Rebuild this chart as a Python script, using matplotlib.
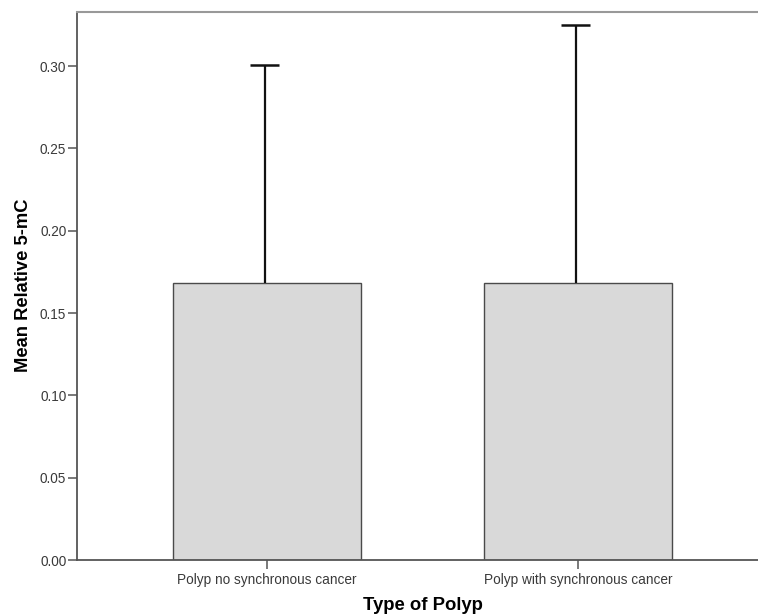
import matplotlib
matplotlib.use("Agg")
import matplotlib.pyplot as plt

categories = ["Polyp no synchronous cancer", "Polyp with synchronous cancer"]
means = [0.1680, 0.1684]
err_upper = [0.3006, 0.3250]
yticks = [0.00, 0.05, 0.10, 0.15, 0.20, 0.25, 0.30]

plt.rcParams['font.family'] = ['Liberation Sans', 'DejaVu Sans']

fig = plt.figure(figsize=(7.58, 6.16), dpi=100)
# axes extends slightly past the right edge of the figure, as in the reference
ax = fig.add_axes([77/758, 1-560/616, (768-77)/758, (560-11.5)/616])

x = list(range(len(categories)))
ax.bar(x, means, width=0.603, color='#d9d9d9', edgecolor='#4a4a4a', linewidth=1.0, zorder=2)

# upper-only error bars (stem + cap)
off = -0.008
ex = [xi + off for xi in x]
ax.vlines(ex, means, err_upper, colors='#111111', linewidth=1.6, zorder=3)
cap_half = 0.048
ax.hlines(err_upper, [e - cap_half for e in ex], [e + cap_half for e in ex],
          colors='#111111', linewidth=1.8, zorder=3)

ax.set_xlim(-0.611, 1.611)
ax.set_ylim(0, 0.3331)
ax.set_yticks(yticks)
ax.set_yticklabels([f"{v:.2f}" for v in yticks])
ax.set_xticks(x)
ax.set_xticklabels(categories)

for s in ['left', 'bottom']:
    ax.spines[s].set_color('#555555')
    ax.spines[s].set_linewidth(1.3)
ax.spines['top'].set_color('#999999')
ax.spines['top'].set_linewidth(1.5)
ax.spines['right'].set_visible(False)

ax.tick_params(axis='both', direction='out', length=6.5, width=1.1, color='#555555',
               labelsize=9.8, labelcolor='#3a3a3a', pad=1.2)
ax.tick_params(axis='x', pad=3)

ax.set_ylabel("Mean Relative 5-mC", fontsize=13.2, fontweight='bold', labelpad=6)
ax.set_xlabel("Type of Polyp", fontsize=13.3, fontweight='bold', labelpad=7)

fig.savefig("out.png", dpi=100)
